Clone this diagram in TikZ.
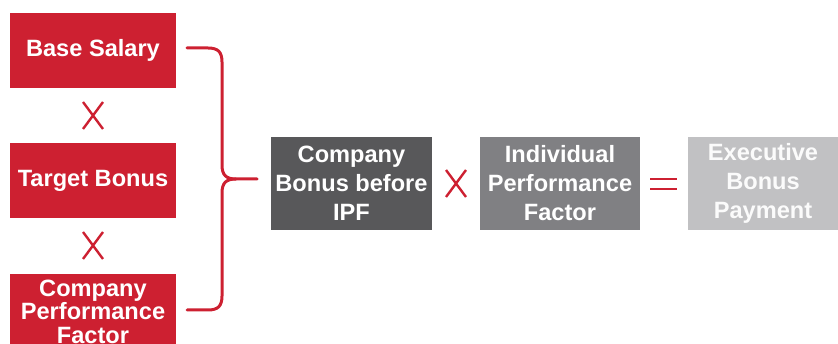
\documentclass[tikz,border=0pt]{standalone}
\usepackage{fontspec}
\setmainfont{Liberation Sans}
\definecolor{brandred}{HTML}{CD2031}
\definecolor{darkbox}{HTML}{58585A}
\definecolor{midbox}{HTML}{808083}
\definecolor{lightbox}{HTML}{C1C1C3}
\begin{document}
\begin{tikzpicture}[x=1pt,y=-1pt,
  box/.style={anchor=north west,inner sep=0pt,outer sep=0pt,align=center,
    text=white,font=\fontsize{23.6}{29}\selectfont\bfseries},
  redbox/.style={box,fill=brandred,minimum width=166pt,minimum height=75pt},
  flowbox/.style={box,minimum height=93pt},
  opline/.style={draw=brandred,line width=2.4pt},
  bracestyle/.style={draw=brandred,line width=3pt,line cap=round,line join=round}]
\useasboundingbox (0,0) rectangle (838,344);
\begin{scope}
\clip (0,0) rectangle (838,344);
% left column of inputs
\node[redbox] (base) at (10,13) {Base Salary};
\node[redbox] (target) at (10,143) {Target Bonus};
\node[redbox,font=\fontsize{23.6}{23.5}\selectfont\bfseries] (cpf) at (10,274) {Company\\Performance\\Factor};
\end{scope}
% multiplication signs between the inputs
\coordinate (x1) at (93,115.5);
\coordinate (x2) at (93,245.5);
\foreach \c in {x1,x2}{
  \draw[opline] ([shift={(-10,-13.5)}]\c) -- ([shift={(10,13.5)}]\c);
  \draw[opline] ([shift={(10,-13.5)}]\c) -- ([shift={(-10,13.5)}]\c);
}
% curly brace gathering the inputs
\coordinate (btop) at (187,48);
\coordinate (bbot) at (187,310);
\coordinate (btip) at (257,179);
\draw[bracestyle] (btop) -- (208,48) .. controls (218,48) and (222,52) .. (222,62)
  -- (222,165) .. controls (222,175) and (226,179) .. (236,179) -- (btip);
\draw[bracestyle] (bbot) -- (208,310) .. controls (218,310) and (222,306) .. (222,296)
  -- (222,193) .. controls (222,183) and (226,179) .. (236,179);
% result chain
\node[flowbox,fill=darkbox,minimum width=161pt] (cbb) at (271,137) {Company\\Bonus before\\IPF};
\node[flowbox,fill=midbox,minimum width=160pt] (ipf) at (480,137) {Individual\\Performance\\Factor};
\node[flowbox,fill=lightbox,minimum width=150pt,text=white!94!lightbox] (pay) at (688,137) {Executive\\Bonus\\Payment};
% multiply sign between the chain boxes
\coordinate (x3) at (456,183.5);
\draw[opline] ([shift={(-10,-13.5)}]x3) -- ([shift={(10,13.5)}]x3);
\draw[opline] ([shift={(10,-13.5)}]x3) -- ([shift={(-10,13.5)}]x3);
% equals sign
\coordinate (eq) at (663.5,184);
\draw[opline] ([shift={(-13.5,-5)}]eq) -- ([shift={(13.5,-5)}]eq);
\draw[opline] ([shift={(-13.5,5)}]eq) -- ([shift={(13.5,5)}]eq);
\end{tikzpicture}
\end{document}
